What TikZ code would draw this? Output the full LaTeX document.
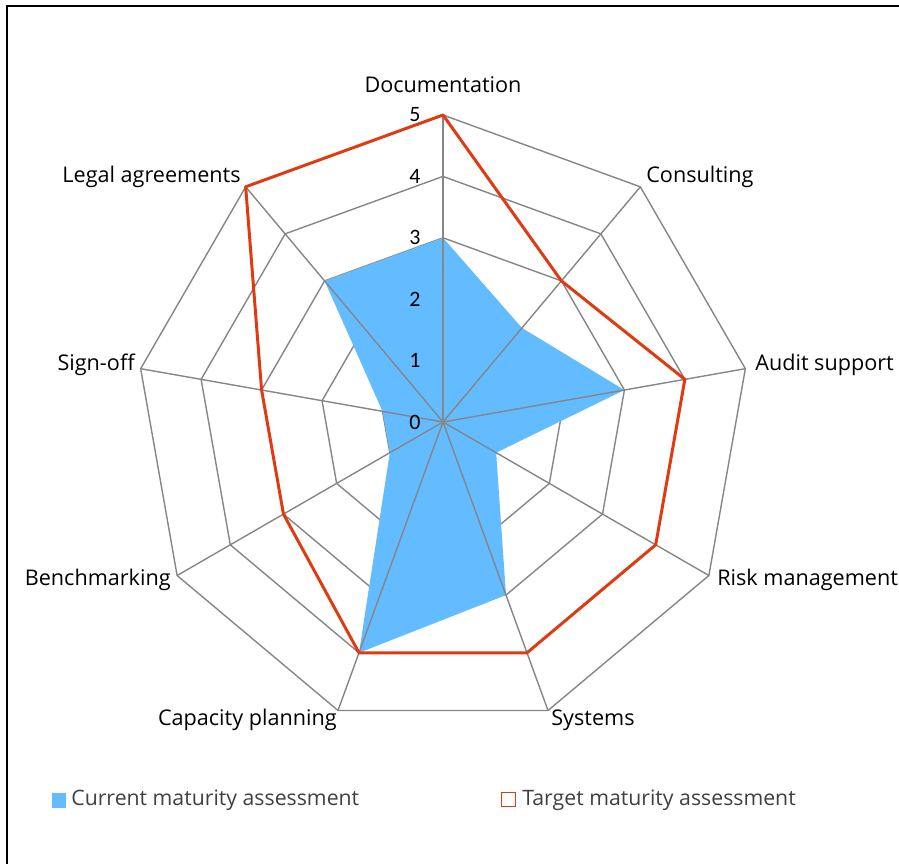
\documentclass[tikz,border=0pt]{standalone}
\usepackage{fontspec}
\setmainfont{Open Sans}
\newfontfamily\tickfont{Carlito}
\usepackage{tikz}
\definecolor{curblue}{RGB}{99,188,255}
\definecolor{tgtred}{RGB}{224,58,18}
\definecolor{gridgray}{RGB}{134,134,134}
\definecolor{legtext}{RGB}{64,64,64}
\newcommand{\ustep}{61.4}

\begin{document}
\begin{tikzpicture}[x=0.02cm,y=0.02cm,
    ring/.style={gridgray,line width=0.8pt},
    spoke/.style={gridgray,line width=0.8pt},
    target/.style={tgtred,line width=1.7pt,line join=round},
    axlabel/.style={font=\fontsize{12.3}{14}\selectfont,inner sep=0pt},
    ticklabel/.style={font=\tickfont\fontsize{12.5}{14}\selectfont,inner sep=0pt},
    legentry/.style={font=\fontsize{12.1}{14}\selectfont,text=legtext,inner sep=0pt,anchor=west}]
        \useasboundingbox (-443,-441) rectangle (456,422);
        \draw[line width=1.2pt] (-436,-450) |- (470,416);
        % axes ends and data points
        \coordinate (O) at (0,0);
        \foreach \a [count=\i] in {90,50,10,-30,-70,-110,-150,-190,-230}
          \coordinate (ax\i) at (\a:5*\ustep);
        \foreach \a/\v [count=\i] in {90/3,50/2,10/3,-30/1,-70/3,-110/4,-150/1,-190/1,-230/3}
          \coordinate (cur\i) at (\a:\v*\ustep);
        \foreach \a/\v [count=\i] in {90/5,50/3,10/4,-30/4,-70/4,-110/4,-150/3,-190/3,-230/5}
          \coordinate (tgt\i) at (\a:\v*\ustep);
        % rings
        \foreach \r in {1,...,5}
          \draw[ring] (90:\r*\ustep) \foreach \a in {50,10,-30,-70,-110,-150,-190,-230} { -- (\a:\r*\ustep) } -- cycle;
        \fill[curblue] (cur1) -- (cur2) -- (cur3) -- (cur4) -- (cur5) -- (cur6) -- (cur7) -- (cur8) -- (cur9) -- cycle;
        \foreach \i in {1,...,9}
          \draw[spoke] (O) -- (ax\i);
        \draw[target] (tgt1) -- (tgt2) -- (tgt3) -- (tgt4) -- (tgt5) -- (tgt6) -- (tgt7) -- (tgt8) -- (tgt9) -- cycle;
        % scale
        \foreach \v in {0,...,5}
          \node[ticklabel] (tick\v) at (-28,\v*\ustep) {\v};
        % category labels
        \node[axlabel] (lblDoc) at (0,337) {Documentation};
        \node[axlabel,anchor=west] (lblCons) at (203,245) {Consulting};
        \node[axlabel,anchor=west] (lblAudit) at (312,57) {Audit support};
        \node[axlabel,anchor=west] (lblRisk) at (274,-158) {Risk management};
        \node[axlabel,anchor=west] (lblSys) at (108,-298) {Systems};
        \node[axlabel,anchor=east] (lblCap) at (-106,-298) {Capacity planning};
        \node[axlabel,anchor=east] (lblBench) at (-272,-158) {Benchmarking};
        \node[axlabel,anchor=east] (lblSign) at (-308,57) {Sign-off};
        \node[axlabel,anchor=east] (lblLegal) at (-202,245) {Legal agreements};
        % legend
        \fill[curblue] (-391,-371) rectangle (-377,-386);
        \node[legentry] (legCur) at (-372,-378) {Current maturity assessment};
        \draw[tgtred,line width=0.9pt] (58.5,-370.5) rectangle (72.5,-384.5);
        \node[legentry] (legTgt) at (79,-378) {Target maturity assessment};
\end{tikzpicture}
\end{document}
